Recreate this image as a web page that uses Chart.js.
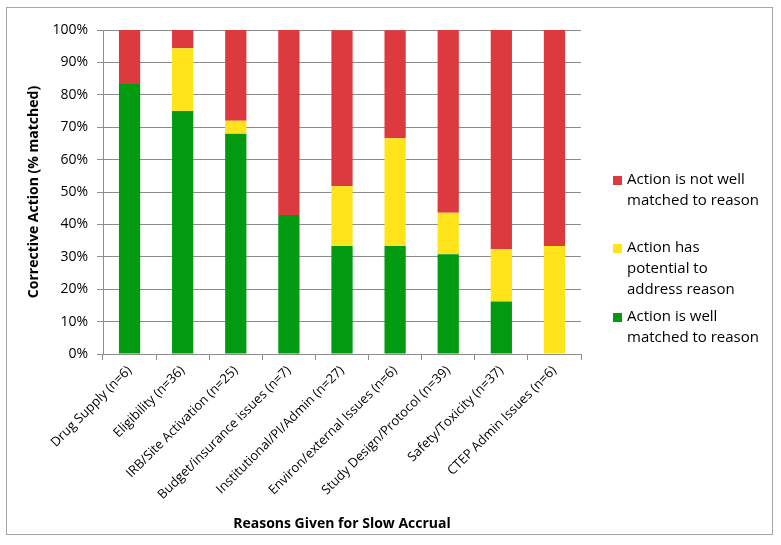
<!DOCTYPE html>
<html>
<head>
<meta charset="utf-8">
<script src="https://cdn.jsdelivr.net/npm/chart.js@4.4.0/dist/chart.umd.min.js"></script>
<style>
  html, body { margin: 0; padding: 0; background: #fff; }
  #wrap { width: 781px; height: 545px; position: relative; }
</style>
</head>
<body>
<div id="wrap"><canvas id="accrualChart"></canvas></div>
<script>
// categories and stacked percentages
const reasons = [
    'Drug Supply (n=6)',
    'Eligibility (n=36)',
    'IRB/Site Activation (n=25)',
    'Budget/insurance issues (n=7)',
    'Institutional/PI/Admin (n=27)',
    'Environ/external Issues (n=6)',
    'Study Design/Protocol (n=39)',
    'Safety/Toxicity (n=37)',
    'CTEP Admin Issues (n=6)'
];
const wellMatched = [83.3, 75.0, 68.0, 42.9, 33.3, 33.3, 30.8, 16.2, 0];
const potential   = [0, 19.4, 4.0, 0, 18.5, 33.3, 12.8, 16.2, 33.3];
const notMatched  = [16.7, 5.6, 28.0, 57.1, 48.1, 33.3, 56.4, 67.6, 66.7];

const legendItems = [
    { color: '#dd3a3f', top: 180, lines: ['Action is not well', 'matched to reason'] },
    { color: '#ffe41c', top: 248, lines: ['Action has', 'potential to', 'address reason'] },
    { color: '#019a10', top: 317, lines: ['Action is well', 'matched to reason'] }
];

const FONT = "'Open Sans', sans-serif";

// border around the whole figure + the side legend
const framePlugin = {
    id: 'frame',
    beforeDraw(chart) {
        const ctx = chart.ctx;
        ctx.save();
        ctx.fillStyle = '#fff';
        ctx.fillRect(0, 0, chart.width, chart.height);
        ctx.strokeStyle = '#a6a6a6';
        ctx.lineWidth = 1;
        ctx.strokeRect(6.5, 7.5, 766, 527);
        ctx.restore();
    },
    afterDraw(chart) {
        const ctx = chart.ctx;
        ctx.save();
        ctx.font = '15px ' + FONT;
        ctx.textBaseline = 'middle';
        legendItems.forEach(item => {
            ctx.fillStyle = item.color;
            ctx.fillRect(613, item.top - 4, 9, 9);
            ctx.fillStyle = '#000';
            item.lines.forEach((t, i) => {
                ctx.fillText(t, 627, item.top + i * 21);
            });
        });
        ctx.restore();
    }
};

const ctx = document.getElementById('accrualChart').getContext('2d');
const accrualChart = new Chart(ctx, {
    type: 'bar',
    data: {
        labels: reasons,
        datasets: [
            { label: 'Action is well matched to reason', data: wellMatched, backgroundColor: '#019a10' },
            { label: 'Action has potential to address reason', data: potential, backgroundColor: '#ffe41c' },
            { label: 'Action is not well matched to reason', data: notMatched, backgroundColor: '#dd3a3f' }
        ]
    },
    options: {
        responsive: true,
        maintainAspectRatio: false,
        animation: false,
        barPercentage: 0.4,
        categoryPercentage: 1.0,
        layout: { padding: { left: 22, right: 200, top: 30, bottom: 9 } },
        plugins: {
            legend: { display: false },
            tooltip: { enabled: false }
        },
        scales: {
            x: {
                stacked: true,
                afterFit: s => { s.height = 182; },
                grid: { drawOnChartArea: false, drawTicks: true, tickLength: 6, color: '#8c8c8c' },
                border: { color: '#8c8c8c' },
                ticks: {
                    minRotation: 45, maxRotation: 45,
                    color: '#000',
                    font: { family: FONT, size: 13 }
                },
                title: {
                    display: true,
                    text: 'Reasons Given for Slow Accrual',
                    color: '#000',
                    font: { family: FONT, size: 14, weight: 'bold' }
                }
            },
            y: {
                stacked: true,
                min: 0, max: 100,
                afterFit: s => { s.width = 81; },
                grid: { color: '#8c8c8c', tickLength: 6 },
                border: { color: '#8c8c8c' },
                ticks: {
                    stepSize: 10,
                    padding: 9,
                    color: '#000',
                    font: { family: FONT, size: 14 },
                    callback: v => v + '%'
                },
                title: {
                    display: true,
                    text: 'Corrective Action (% matched)',
                    color: '#000',
                    font: { family: FONT, size: 14, weight: 'bold' }
                }
            }
        }
    },
    plugins: [framePlugin]
});
</script>
</body>
</html>
